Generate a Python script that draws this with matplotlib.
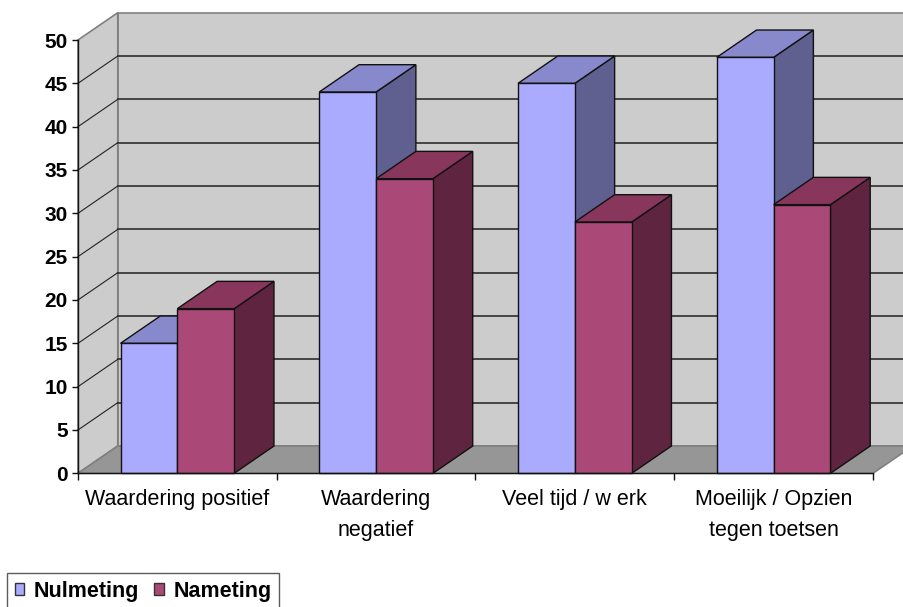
import matplotlib.pyplot as plt
from matplotlib.patches import Polygon, Patch

plt.rcParams['font.family'] = ['Liberation Sans', 'DejaVu Sans']

# survey results per category
categories = ['Waardering positief', 'Waardering\nnegatief', 'Veel tijd / w erk',
              'Moeilijk / Opzien\ntegen toetsen']
nulmeting = [15, 44, 45, 48]
nameting = [19, 34, 29, 31]
yticks = list(range(0, 51, 5))

# fake 3d look: depth offset in data units
DX, DY = 0.2, 3.15
bar_w = 0.286
gap = 0.214

wall_col = '#cccccc'
floor_col = '#969696'
edge_gray = '#808080'
blue = ('#aaaaff', '#8889cc', '#5f6090')   # front, top, side
pink = ('#aa4977', '#88365c', '#5f2440')

fig = plt.figure(figsize=(9.04, 6.07), dpi=100)
ax = fig.add_axes([78 / 904, 1 - 473.3 / 607, 795 / 904, 433.3 / 607])
ax.set_xlim(0, len(categories))
ax.set_ylim(0, 50)
ax.patch.set_visible(False)

n = len(categories)
top = yticks[-1]

def poly(pts, fc, ec, lw=1.0, z=1):
    ax.add_patch(Polygon(pts, closed=True, facecolor=fc, edgecolor=ec,
                         linewidth=lw, clip_on=False, zorder=z, joinstyle='miter'))

# back wall, side wall and floor
poly([(DX, DY), (n + DX, DY), (n + DX, top + DY), (DX, top + DY)], wall_col, edge_gray, 1.2, 0)
poly([(0, 0), (DX, DY), (DX, top + DY), (0, top)], wall_col, edge_gray, 1.2, 0)
poly([(0, 0), (n, 0), (n + DX, DY), (DX, DY)], floor_col, edge_gray, 1.2, 0.5)

# gridlines on the walls
for v in yticks[1:-1]:
    ax.plot([DX, n + DX], [v + DY, v + DY], color='#3a3a3a', lw=1.3, clip_on=False, zorder=0.6)
    ax.plot([0, DX], [v, v + DY], color='#222222', lw=0.8, clip_on=False, zorder=0.6)

def box(x0, v, cols):
    front, topc, side = cols
    poly([(x0 + bar_w, 0), (x0 + bar_w + DX, DY), (x0 + bar_w + DX, v + DY), (x0 + bar_w, v)],
         side, '#111111', 1.0, 2)
    poly([(x0, v), (x0 + bar_w, v), (x0 + bar_w + DX, v + DY), (x0 + DX, v + DY)],
         topc, '#111111', 1.0, 2)
    poly([(x0, 0), (x0 + bar_w, 0), (x0 + bar_w, v), (x0, v)], front, '#111111', 1.0, 2)

for i in range(n):
    box(i + gap, nulmeting[i], blue)
    box(i + gap + bar_w, nameting[i], pink)

# axes and ticks
for s in ['top', 'right']:
    ax.spines[s].set_visible(False)
for s in ['left', 'bottom']:
    ax.spines[s].set_color('#111111')
    ax.spines[s].set_linewidth(1.0)
    ax.spines[s].set_zorder(3)

ax.set_yticks(yticks)
ax.set_yticklabels([str(v) for v in yticks], fontsize=15, fontweight='bold')
ax.tick_params(axis='y', direction='out', length=4.5, width=1, pad=3, color='#111111')

ax.set_xticks(range(n + 1))
ax.set_xticklabels([])
ax.tick_params(axis='x', which='major', direction='out', length=5, width=1, color='#111111')
ax.set_xticks([i + 0.5 for i in range(n)], minor=True)
ax.set_xticklabels(categories, minor=True, fontsize=15.5, linespacing=1.65)
ax.tick_params(axis='x', which='minor', length=0, pad=11)

handles = [Patch(facecolor=blue[0], edgecolor='#333333', label='Nulmeting'),
           Patch(facecolor=pink[0], edgecolor='#333333', label='Nameting')]
leg = fig.legend(handles=handles, loc='upper left', bbox_to_anchor=(7 / 904, 1 - 573 / 607),
                 ncol=2, prop={'weight': 'bold', 'size': 15.5}, frameon=True, fancybox=False,
                 handlelength=0.45, handleheight=0.45, handletextpad=0.45, columnspacing=0.7,
                 borderpad=0.35, borderaxespad=0)
leg.get_frame().set_edgecolor('#333333')
leg.get_frame().set_linewidth(1.0)

fig.savefig('out.png', dpi=100)
